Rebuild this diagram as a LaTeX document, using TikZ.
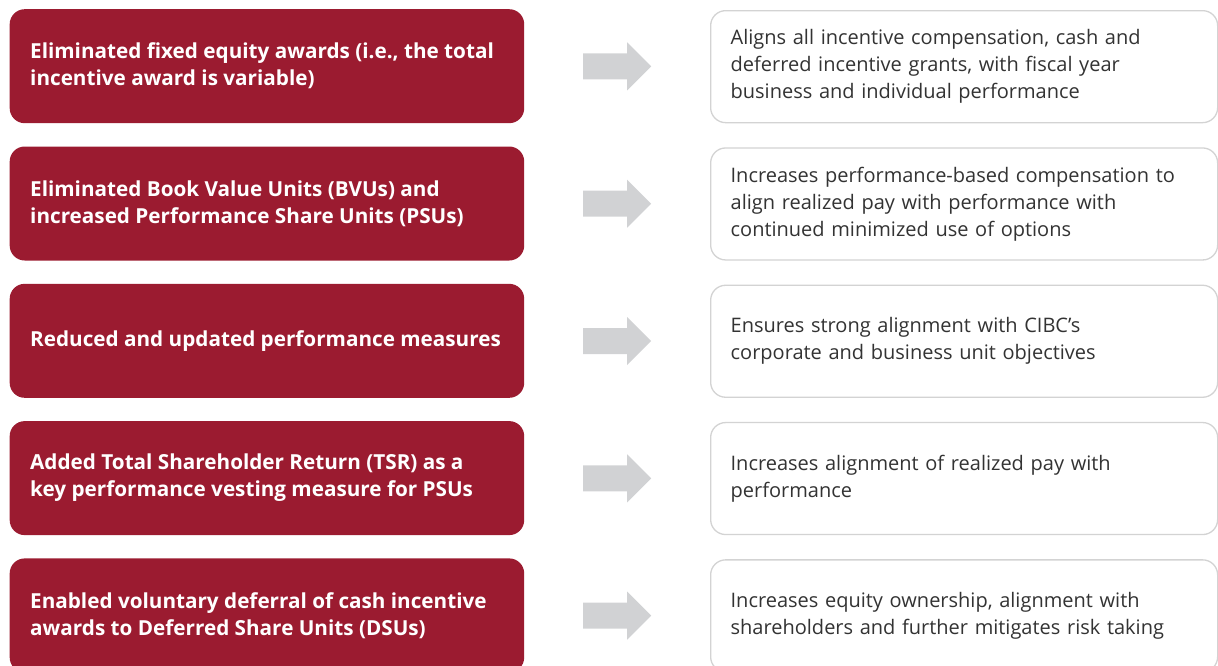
\documentclass[tikz,border=0pt]{standalone}
\usepackage{fontspec}
\setmainfont{Open Sans}
\usetikzlibrary{calc}
\definecolor{cibcred}{HTML}{9B1B30}
\definecolor{arrowgray}{HTML}{D1D2D4}
\definecolor{boxborder}{HTML}{D3D3D3}
\definecolor{txtgray}{HTML}{333333}
\tikzset{
  leftbox/.style={fill=cibcred, rounded corners=15pt, anchor=north west,
    minimum height=114pt, minimum width=514.5pt, inner sep=0pt},
  lefttext/.style={anchor=west, inner sep=0pt, align=left, text=white,
    font=\fontsize{20.7}{27}\selectfont\bfseries},
  rightbox/.style={draw=boxborder, line width=1.3pt, fill=white, rounded corners=15pt,
    anchor=north west, minimum height=112pt, inner xsep=20pt, inner ysep=0pt,
    text width=467pt, align=left, text=txtgray, font=\fontsize{20}{27}\selectfont},
  bigarrow/.style={fill=arrowgray}
}
\begin{document}
\begin{tikzpicture}[x=1pt,y=-1pt]
\useasboundingbox (0,0) rectangle (1218,665);
\node[leftbox] (l1) at (9.5,9) {};
\node[leftbox] (l2) at (9.5,146.3) {};
\node[leftbox] (l3) at (9.5,283.6) {};
\node[leftbox] (l4) at (9.5,420.9) {};
\node[leftbox] (l5) at (9.5,558.2) {};
\node[lefttext] (t1) at ($(l1.west)+(20.5,0)$) {Eliminated fixed equity awards (i.e., the total\\incentive award is variable)};
\node[lefttext] (t2) at ($(l2.west)+(20.5,0)$) {Eliminated Book Value Units (BVUs) and\\increased Performance Share Units (PSUs)};
\node[lefttext] (t3) at ($(l3.west)+(20.5,0)$) {Reduced and updated performance measures};
\node[lefttext] (t4) at ($(l4.west)+(20.5,0)$) {Added Total Shareholder Return (TSR) as a\\key performance vesting measure for PSUs};
\node[lefttext] (t5) at ($(l5.west)+(20.5,0)$) {Enabled voluntary deferral of cash incentive\\awards to Deferred Share Units (DSUs)};
\node[rightbox] (r1) at (710,10) {Aligns all incentive compensation, cash and\\deferred incentive grants, with fiscal year\\business and individual performance};
\node[rightbox] (r2) at (710,147.3) {Increases performance-based compensation to\\align realized pay with performance with\\continued minimized use of options};
\node[rightbox] (r3) at (710,284.6) {Ensures strong alignment with CIBC’s\\corporate and business unit objectives};
\node[rightbox] (r4) at (710,421.9) {Increases alignment of realized pay with\\performance};
\node[rightbox] (r5) at (710,559.2) {Increases equity ownership, alignment with\\shareholders and further mitigates risk taking};
\foreach \i in {1,...,5}{
  \coordinate (a\i) at ($(l\i.east)!0.5!(r\i.west)$);
  \fill[bigarrow] ($(a\i)+(-34,-13)$) -- ($(a\i)+(10,-13)$) -- ($(a\i)+(10,-24)$)
    -- ($(a\i)+(34,0)$) -- ($(a\i)+(10,24)$) -- ($(a\i)+(10,13)$) -- ($(a\i)+(-34,13)$) -- cycle;
}
\end{tikzpicture}
\end{document}
